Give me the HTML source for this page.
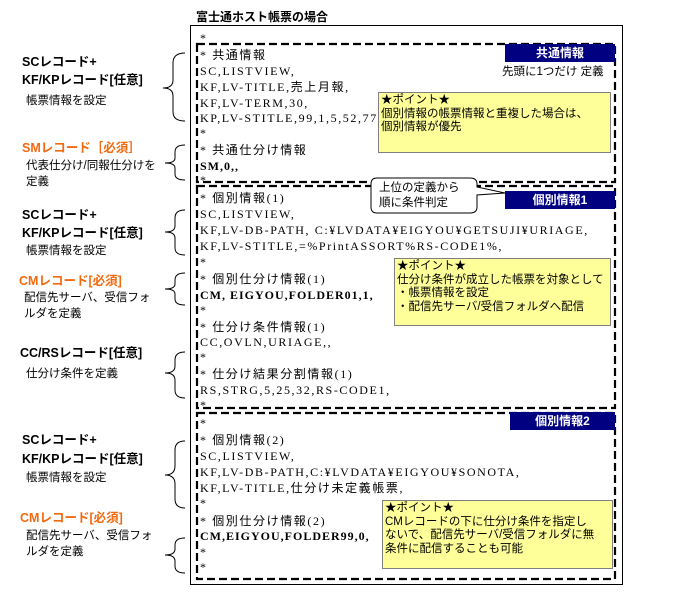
<!DOCTYPE html>
<html><head><meta charset="utf-8"><style>
body{margin:0;width:680px;height:604px;background:#fff;position:relative;overflow:hidden;font-family:"Liberation Serif","Noto Sans CJK JP",serif;}
.t{position:absolute;white-space:nowrap;font-size:12px;line-height:14px;color:#000;}
.c{font-family:"Liberation Serif","Noto Sans CJK JP",serif;font-size:12px;letter-spacing:1.6px;}
.b{font-weight:bold;letter-spacing:1px;}
.lb{font-family:"Liberation Sans","Noto Sans CJK JP",sans-serif;font-weight:bold;font-size:12.5px;}
.ls{font-family:"Liberation Sans","Noto Sans CJK JP",sans-serif;font-size:11.5px;}
.or{color:#f26a10;}
.hd{position:absolute;background:#000080;color:#fff;font-family:"Liberation Sans","Noto Sans CJK JP",sans-serif;font-weight:bold;font-size:12px;text-align:center;line-height:18px;}
.note{position:absolute;background:#ffff99;border:1px solid #808080;font-family:"Liberation Sans","Noto Sans CJK JP",sans-serif;font-size:11.5px;line-height:13.5px;padding:1px 2px;box-sizing:border-box;}
</style></head><body>
<svg width="680" height="604" style="position:absolute;left:0;top:0">
<rect x="190.5" y="25.5" width="432" height="559" fill="none" stroke="#000" stroke-width="1"/>
<g fill="none" stroke="#000" stroke-width="2.2" stroke-dasharray="8,4">
<rect x="197" y="44" width="418" height="138"/>
<rect x="197" y="186" width="418" height="222"/>
<rect x="197" y="413" width="418" height="166"/>
</g>
<g fill="none" stroke="#000" stroke-width="1">
<path d="M185 53 Q173 53 173 63 L173 80 Q173 88 163 88 Q173 88 173 96 L173 112 Q173 121 185 121"/>
<path d="M185 145 Q175 145 175 152 L175 158 Q175 163 165 163 Q175 163 175 168 L175 174 Q175 180 185 180"/>
<path d="M185 210 Q175 210 175 218 L175 226 Q175 232 165 232 Q175 232 175 238 L175 248 Q175 255 185 255"/>
<path d="M185 273 Q175 273 175 280 L175 284 Q175 289 165 289 Q175 289 175 294 L175 299 Q175 305 185 305"/>
<path d="M185 352 Q175 352 175 360 L175 366 Q175 373 165 373 Q175 373 175 380 L175 390 Q175 398 185 398"/>
<path d="M185 441 Q175 441 175 450 L175 466 Q175 475 165 475 Q175 475 175 484 L175 499 Q175 508 185 508"/>
<path d="M185 538 Q175 538 175 545 L175 549 Q175 555 165 555 Q175 555 175 561 L175 566 Q175 573 185 573"/>
</g>
<path d="M377 178 L470 178 Q477 178 477 184 L477 187 L505 193 L477 195 L477 207 Q477 213 470 213 L377 213 Q371 213 371 207 L371 184 Q371 178 377 178 Z" fill="#fff" stroke="#000" stroke-width="1"/>
</svg>
<div class="t lb" style="left:196px;top:10px;font-size:12px">富士通ホスト帳票の場合</div>
<div class="hd" style="left:505px;top:44px;width:110px;">共通情報</div>
<div class="t ls" style="left:502px;top:65px;">先頭に1つだけ 定義</div>
<div class="hd" style="left:505px;top:191px;width:110px;">個別情報1</div>
<div class="hd" style="left:510px;top:412px;width:105px;">個別情報2</div>
<div class="t ls" style="left:379px;top:181px;line-height:15px">上位の定義から<br>順に条件判定</div>
<div class="t c" style="left:200px;top:31px;">*</div>
<div class="t c" style="left:200px;top:48px;">* 共通情報</div>
<div class="t c" style="left:200px;top:64px;">SC,LISTVIEW,</div>
<div class="t c" style="left:200px;top:80px;">KF,LV-TITLE,売上月報,</div>
<div class="t c" style="left:200px;top:96px;">KF,LV-TERM,30,</div>
<div class="t c" style="left:200px;top:111px;">KP,LV-STITLE,99,1,5,52,77,</div>
<div class="t c" style="left:200px;top:126px;">*</div>
<div class="t c" style="left:200px;top:143px;">* 共通仕分け情報</div>
<div class="t c b" style="left:200px;top:159px;">SM,0,,</div>
<div class="t c" style="left:200px;top:173px;">*</div>
<div class="t c" style="left:200px;top:191px;">* 個別情報(1)</div>
<div class="t c" style="left:200px;top:207px;">SC,LISTVIEW,</div>
<div class="t c" style="left:200px;top:223px;">KF,LV-DB-PATH, C:¥LVDATA¥EIGYOU¥GETSUJI¥URIAGE,</div>
<div class="t c" style="left:200px;top:239px;">KF,LV-STITLE,=%PrintASSORT%RS-CODE1%,</div>
<div class="t c" style="left:200px;top:255px;">*</div>
<div class="t c" style="left:200px;top:272px;">* 個別仕分け情報(1)</div>
<div class="t c b" style="left:200px;top:288px;">CM, EIGYOU,FOLDER01,1,</div>
<div class="t c" style="left:200px;top:303px;">*</div>
<div class="t c" style="left:200px;top:320px;">* 仕分け条件情報(1)</div>
<div class="t c" style="left:200px;top:335px;">CC,OVLN,URIAGE,,</div>
<div class="t c" style="left:200px;top:350px;">*</div>
<div class="t c" style="left:200px;top:367px;">* 仕分け結果分割情報(1)</div>
<div class="t c" style="left:200px;top:383px;">RS,STRG,5,25,32,RS-CODE1,</div>
<div class="t c" style="left:200px;top:398px;">*</div>
<div class="t c" style="left:200px;top:416px;">*</div>
<div class="t c" style="left:200px;top:433px;">* 個別情報(2)</div>
<div class="t c" style="left:200px;top:449px;">SC,LISTVIEW,</div>
<div class="t c" style="left:200px;top:465px;">KF,LV-DB-PATH,C:¥LVDATA¥EIGYOU¥SONOTA,</div>
<div class="t c" style="left:200px;top:481px;">KF,LV-TITLE,仕分け未定義帳票,</div>
<div class="t c" style="left:200px;top:496px;">*</div>
<div class="t c" style="left:200px;top:514px;">* 個別仕分け情報(2)</div>
<div class="t c b" style="left:200px;top:529px;">CM,EIGYOU,FOLDER99,0,</div>
<div class="t c" style="left:200px;top:545px;">*</div>
<div class="t c" style="left:200px;top:560px;">*</div>
<div class="note" style="left:378px;top:92px;width:233px;height:61px;">★ポイント★<br>個別情報の帳票情報と重複した場合は、<br>個別情報が優先</div>
<div class="note" style="left:394px;top:258px;width:217px;height:68px;">★ポイント★<br>仕分け条件が成立した帳票を対象として<br>・帳票情報を設定<br>・配信先サーバ/受信フォルダへ配信</div>
<div class="note" style="left:382px;top:500px;width:231px;height:69px;">★ポイント★<br>CMレコードの下に仕分け条件を指定し<br>ないで、配信先サーバ/受信フォルダに無<br>条件に配信することも可能</div>
<div class="t lb" style="left:22px;top:55px;">SCレコード+</div>
<div class="t lb" style="left:22px;top:73px;">KF/KPレコード[任意]</div>
<div class="t ls" style="left:26px;top:94px;">帳票情報を設定</div>
<div class="t lb or" style="left:22px;top:141px;">SMレコード［必須］</div>
<div class="t ls" style="left:26px;top:159px;">代表仕分け/同報仕分けを</div>
<div class="t ls" style="left:26px;top:175px;">定義</div>
<div class="t lb" style="left:22px;top:208px;">SCレコード+</div>
<div class="t lb" style="left:22px;top:226px;">KF/KPレコード[任意]</div>
<div class="t ls" style="left:26px;top:244px;">帳票情報を設定</div>
<div class="t lb or" style="left:19px;top:274px;">CMレコード[必須]</div>
<div class="t ls" style="left:24px;top:291px;">配信先サーバ、受信フォ</div>
<div class="t ls" style="left:24px;top:307px;">ルダを定義</div>
<div class="t lb" style="left:20px;top:346px;">CC/RSレコード[任意]</div>
<div class="t ls" style="left:26px;top:367px;">仕分け条件を定義</div>
<div class="t lb" style="left:22px;top:433px;">SCレコード+</div>
<div class="t lb" style="left:22px;top:452px;">KF/KPレコード[任意]</div>
<div class="t ls" style="left:26px;top:471px;">帳票情報を設定</div>
<div class="t lb or" style="left:20px;top:511px;">CMレコード[必須]</div>
<div class="t ls" style="left:26px;top:529px;">配信先サーバ、受信フォ</div>
<div class="t ls" style="left:26px;top:545px;">ルダを定義</div>
</body></html>
